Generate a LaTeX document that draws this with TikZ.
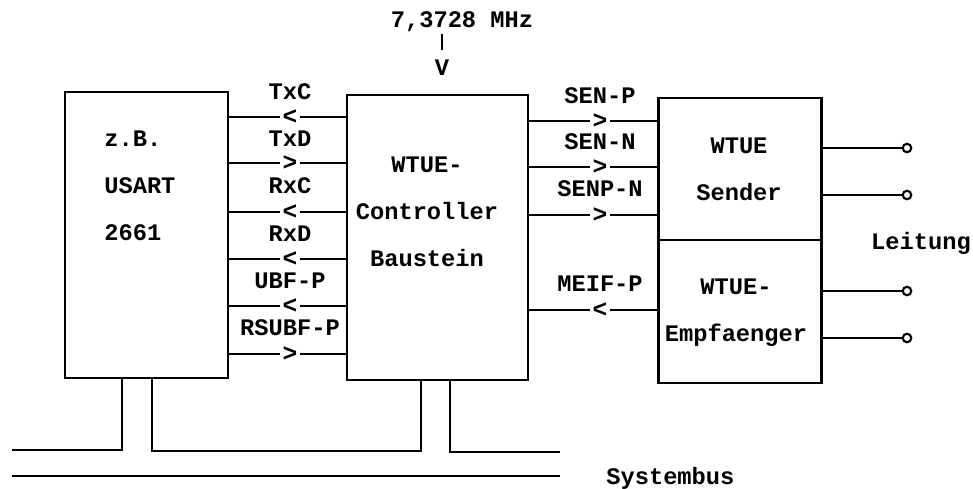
\documentclass[tikz,border=0pt]{standalone}
\usepackage{fontspec}
\setmonofont{Liberation Mono}
\tikzset{
  box/.style={draw,line width=1.5pt},
  txt/.style={font=\fontsize{13.5}{26.7}\selectfont\ttfamily\bfseries,inner sep=0pt},
  tip/.style={font=\fontsize{14}{14}\selectfont\ttfamily\bfseries,inner sep=0.5pt},
  term/.style={circle,draw,fill=white,line width=1.2pt,inner sep=0pt,minimum size=0.17cm}
}
\begin{document}
\begin{tikzpicture}[x=0.02cm,y=-0.02cm,line width=1.5pt]
\useasboundingbox (0,0) rectangle (973,488);
% boxes
\node[box,minimum width=3.26cm,minimum height=5.72cm] (usart) at (146.5,235) {};
\node[box,minimum width=3.62cm,minimum height=5.7cm] (ctrl) at (437.5,237.5) {};
\node[box,minimum width=3.26cm,minimum height=2.84cm] (sender) at (740,169) {};
\node[box,minimum width=3.26cm,minimum height=2.86cm] (empf) at (740,311.5) {};
\node[txt,align=left,anchor=west] (usarttxt) at (103,186) {z.B.\\USART\\2661};
\node[txt,align=center] (ctrltxt) at (427,212) {WTUE-\\Controller\\Baustein};
\node[txt,align=center] (sendtxt) at (739,169) {WTUE\\Sender};
\node[txt,align=center] (empftxt) at (736,313) {WTUE-\\Empfaenger};
% clock
\node[txt] (freq) at (462,22) {7,3728 MHz};
\node[txt] (vtip) at (442,68) {V};
\coordinate (ticktop) at (442,34);
\draw[shorten >=0.18cm] (ticktop) -- (vtip.north);
% usart <-> controller
\node[tip] (txcm) at (290,117) {<};
\node[txt] (txcl) at (290,92) {TxC};
\draw (usart.east |- txcm) -- (txcm.west);
\draw (txcm.east) -- (ctrl.west |- txcm);
\node[tip] (txdm) at (290,163) {>};
\node[txt] (txdl) at (290,139) {TxD};
\draw (usart.east |- txdm) -- (txdm.west);
\draw (txdm.east) -- (ctrl.west |- txdm);
\node[tip] (rxcm) at (290,212) {<};
\node[txt] (rxcl) at (290,186) {RxC};
\draw (usart.east |- rxcm) -- (rxcm.west);
\draw (rxcm.east) -- (ctrl.west |- rxcm);
\node[tip] (rxdm) at (290,259) {<};
\node[txt] (rxdl) at (290,234) {RxD};
\draw (usart.east |- rxdm) -- (rxdm.west);
\draw (rxdm.east) -- (ctrl.west |- rxdm);
\node[tip] (ubfm) at (290,306) {<};
\node[txt] (ubfl) at (290,281) {UBF-P};
\draw (usart.east |- ubfm) -- (ubfm.west);
\draw (ubfm.east) -- (ctrl.west |- ubfm);
\node[tip] (rsubfm) at (290,354) {>};
\node[txt] (rsubfl) at (290,328) {RSUBF-P};
\draw (usart.east |- rsubfm) -- (rsubfm.west);
\draw (rsubfm.east) -- (ctrl.west |- rsubfm);
% controller <-> sender/empfaenger
\node[tip] (senpm) at (600,121) {>};
\node[txt] (senpl) at (600,96) {SEN-P};
\draw (ctrl.east |- senpm) -- (senpm.west);
\draw (senpm.east) -- (sender.west |- senpm);
\node[tip] (sennm) at (600,167) {>};
\node[txt] (sennl) at (600,142) {SEN-N};
\draw (ctrl.east |- sennm) -- (sennm.west);
\draw (sennm.east) -- (sender.west |- sennm);
\node[tip] (senpnm) at (600,215) {>};
\node[txt] (senpnl) at (600,189) {SENP-N};
\draw (ctrl.east |- senpnm) -- (senpnm.west);
\draw (senpnm.east) -- (sender.west |- senpnm);
\node[tip] (meifm) at (600,310) {<};
\node[txt] (meifl) at (600,284) {MEIF-P};
\draw (ctrl.east |- meifm) -- (meifm.west);
\draw (meifm.east) -- (empf.west |- meifm);
% leitung
\node[term] (t1) at (907,148) {};
\node[term] (t2) at (907,195) {};
\node[term] (t3) at (907,291) {};
\node[term] (t4) at (907,338) {};
\draw (sender.east |- t1) -- (t1);
\draw (sender.east |- t2) -- (t2);
\draw (empf.east |- t3) -- (t3);
\draw (empf.east |- t4) -- (t4);
\node[txt] (leit) at (921,243) {Leitung};
% systembus
\coordinate (busa) at (12,450);
\coordinate (lega) at (122,450);
\coordinate (legb) at (152,451);
\coordinate (legc) at (421,451);
\coordinate (legd) at (450,452);
\coordinate (busb) at (560,452);
\coordinate (sysa) at (12,476);
\coordinate (sysb) at (560,476);
\draw (busa) -- (lega) -- (usart.south -| lega);
\draw (usart.south -| legb) -- (legb) -- (legc) -- (ctrl.south -| legc);
\draw (ctrl.south -| legd) -- (legd) -- (busb);
\draw (sysa) -- (sysb);
\node[txt,anchor=west] (sysbus) at (605,478) {Systembus};
\end{tikzpicture}
\end{document}
